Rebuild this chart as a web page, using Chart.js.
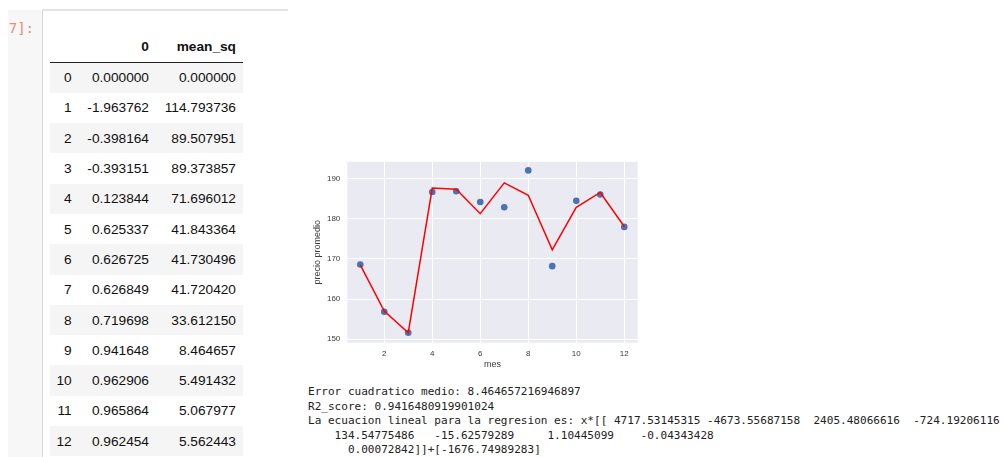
<!DOCTYPE html>
<html lang="es">
<head>
<meta charset="UTF-8">
<script src="https://cdn.jsdelivr.net/npm/chart.js"></script>
<title>precio promedio</title>
<style>
    body { margin: 0; width: 1004px; height: 457px; overflow: hidden; background: #fff; position: relative; }
    .gutter { position: absolute; left: 8px; top: 10px; width: 34px; height: 447px; background: #f7f7f7;
        border-right: 1px solid #d6d6d6; }
    .prompt { position: absolute; right: 8px; top: 9px; font: 14px "DejaVu Sans Mono", monospace; color: #e38d77;
        white-space: nowrap; line-height: 18px; }
    .topline { position: absolute; left: 43px; top: 9px; width: 245px; height: 2px; background: #e2e2e2; }
    table { position: absolute; left: 50px; top: 31px; border-collapse: collapse; table-layout: fixed;
        font: 13.7px "Liberation Sans", Arial, sans-serif; color: #111; }
    th, td { text-align: right; padding: 0; white-space: nowrap; }
    thead th { height: 31px; font-weight: bold; border-bottom: 1px solid #222; }
    tbody tr { height: 30.3px; }
    tbody tr:nth-child(odd) { background: #f5f5f5; }
    tbody th { font-weight: normal; }
    .c0 { width: 21.7px; padding-right: 5.3px; }
    .c1 { width: 72px; padding-right: 5px; }
    .c2 { width: 82px; padding-right: 7px; }
    #chartBox { position: absolute; left: 295px; top: 150px; width: 350px; height: 225px; }
    pre { position: absolute; left: 308px; top: 385px; margin: 0; font: 11.05px "DejaVu Sans Mono", monospace;
        line-height: 14.5px; color: #222; }
</style>
</head>
<body>
<div class="gutter"><div class="prompt">7]:</div></div>
<div class="topline"></div>
<table id="tabla">
    <thead><tr><th class="c0"></th><th class="c1">0</th><th class="c2">mean_sq</th></tr></thead>
    <tbody></tbody>
</table>
<div id="chartBox"><canvas id="grafico" width="350" height="225"></canvas></div>
<pre id="salida"></pre>

<script>
    // tabla (indice, r2, error cuadratico medio)
    const grados = [0, 1, 2, 3, 4, 5, 6, 7, 8, 9, 10, 11, 12];
    const r2 = ['0.000000', '-1.963762', '-0.398164', '-0.393151', '0.123844', '0.625337', '0.626725',
        '0.626849', '0.719698', '0.941648', '0.962906', '0.965864', '0.962454'];
    const meanSq = ['0.000000', '114.793736', '89.507951', '89.373857', '71.696012', '41.843364', '41.730496',
        '41.720420', '33.612150', '8.464657', '5.491432', '5.067977', '5.562443'];

    // grafico
    const meses = [1, 2, 3, 4, 5, 6, 7, 8, 9, 10, 11, 12];
    const precioReal = [168.6, 156.8, 151.6, 186.7, 186.9, 184.2, 182.9, 192.1, 168.2, 184.5, 186.1, 178.0];
    const precioPred = [168.5, 157.0, 151.6, 187.7, 187.4, 181.3, 189.0, 185.9, 172.3, 182.9, 186.6, 178.1];
    const xTicks = [2, 4, 6, 8, 10, 12];
    const yTicks = [150, 160, 170, 180, 190];

    const salida = [
        'Error cuadratico medio: 8.464657216946897',
        'R2_score: 0.9416480919901024',
        'La ecuacion lineal para la regresion es: x*[[ 4717.53145315 -4673.55687158  2405.48066616  -724.19206116',
        '    134.54775486   -15.62579289     1.10445099    -0.04343428',
        '      0.00072842]]+[-1676.74989283]'
    ];

    const tbody = document.querySelector('#tabla tbody');
    grados.forEach((g, i) => {
        const tr = document.createElement('tr');
        tr.innerHTML = '<th class="c0">' + g + '</th><td class="c1">' + r2[i] + '</td><td class="c2">' + meanSq[i] + '</td>';
        tbody.appendChild(tr);
    });
    document.getElementById('salida').textContent = salida.join('\n');

    // fondo gris tipo seaborn
    const fondo = {
        id: 'fondo',
        beforeDraw(chart) {
            const { ctx, chartArea: a } = chart;
            ctx.save();
            ctx.fillStyle = '#eaeaf2';
            ctx.fillRect(a.left, a.top, a.right - a.left, a.bottom - a.top);
            ctx.restore();
        }
    };

    const ctx = document.getElementById('grafico').getContext('2d');
    new Chart(ctx, {
        type: 'scatter',
        data: {
            datasets: [
                {
                    label: 'prediccion',
                    data: meses.map((m, i) => ({ x: m, y: precioPred[i] })),
                    showLine: true,
                    borderColor: '#ff0000',
                    borderWidth: 1.5,
                    pointRadius: 0,
                    tension: 0
                },
                {
                    label: 'real',
                    data: meses.map((m, i) => ({ x: m, y: precioReal[i] })),
                    showLine: false,
                    backgroundColor: '#4c72b0',
                    borderColor: '#4c72b0',
                    borderWidth: 0,
                    pointRadius: 3.3
                }
            ]
        },
        options: {
            responsive: false,
            animation: false,
            layout: { padding: { left: 0, top: 5, right: 7.3, bottom: 0 } },
            plugins: { legend: { display: false }, tooltip: { enabled: false } },
            scales: {
                x: {
                    type: 'linear',
                    min: 0.46,
                    max: 12.56,
                    afterFit: s => { s.height = 32.3; },
                    afterBuildTicks: s => { s.ticks = xTicks.map(v => ({ value: v })); },
                    grid: { color: '#ffffff', lineWidth: 1, drawTicks: false },
                    border: { display: false },
                    ticks: { padding: 6, color: '#3a3a3a', font: { family: 'Liberation Sans', size: 8 }, maxRotation: 0 },
                    title: { display: true, text: 'mes', color: '#3a3a3a', padding: { top: 0, bottom: 4.6 },
                        font: { family: 'Liberation Sans', size: 9 } }
                },
                y: {
                    min: 149.1,
                    max: 194.25,
                    afterFit: s => { s.width = 52.3; },
                    afterBuildTicks: s => { s.ticks = yTicks.map(v => ({ value: v })); },
                    grid: { color: '#ffffff', lineWidth: 1, drawTicks: false },
                    border: { display: false },
                    ticks: { padding: 7, color: '#3a3a3a', font: { family: 'Liberation Sans', size: 8 } },
                    title: { display: true, text: 'precio promedio', color: '#3a3a3a', padding: { top: 17.3, bottom: 0 },
                        font: { family: 'Liberation Sans', size: 9 } }
                }
            }
        },
        plugins: [fondo]
    });
</script>
</body>
</html>
